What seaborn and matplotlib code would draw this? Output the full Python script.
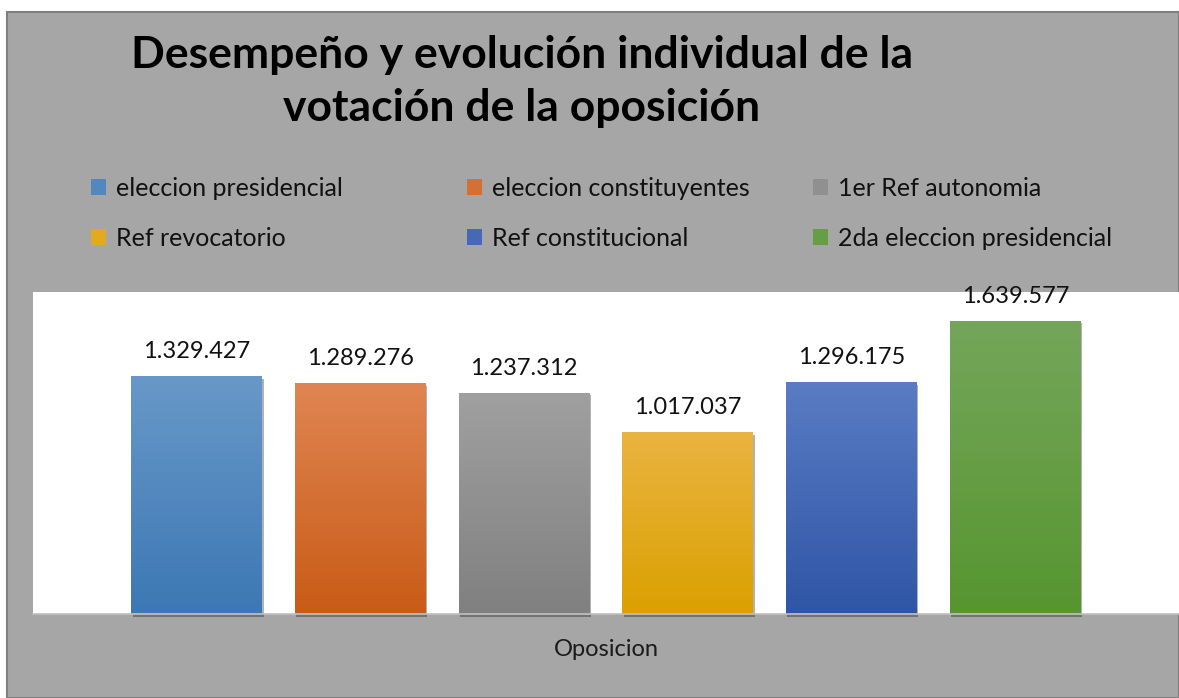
import numpy as np
import pandas as pd
import matplotlib
matplotlib.use("Agg")
import matplotlib.pyplot as plt
import matplotlib.colors as mcolors
import matplotlib.patheffects as pe
from matplotlib.patches import Patch, Rectangle
import seaborn as sns

categories = ["eleccion presidencial", "eleccion constituyentes", "1er Ref autonomia",
              "Ref revocatorio", "Ref constitucional", "2da eleccion presidencial"]
values = [1329427, 1289276, 1237312, 1017037, 1296175, 1639577]
colors = ["#5B9BD5", "#ED7D31", "#A5A5A5", "#FFC000", "#4472C4", "#70AD47"]
top_colors = ["#6898c8", "#e08552", "#a0a0a0", "#e9b441", "#5a7cc4", "#74a65a"]
bottom_colors = ["#3c78b4", "#c95b17", "#808080", "#dba000", "#2f55a6", "#579530"]
title_lines = ["Desempeño y evolución individual de la", "votación de la oposición"]
xlabel = "Oposicion"

sns.set_theme(style="white")
plt.rcParams["font.family"] = ["Lato", "DejaVu Sans"]

W, H = 1179, 698
fig = plt.figure(figsize=(W / 100, H / 100), dpi=100)
fig.patch.set_facecolor("white")
bg = Rectangle((7 / W, 0), 1 - 7 / W, 1 - 12 / H, transform=fig.transFigure,
               facecolor="#a6a6a6", edgecolor="#7f7f7f", linewidth=1.5, zorder=-5)
fig.add_artist(bg)

ax = fig.add_axes([33 / W, 84 / H, 1146 / W, 322 / H])
ax.set_zorder(1)
df = pd.DataFrame({"serie": categories, "votos": values})
sns.barplot(data=df, x="serie", y="votos", hue="serie", palette=colors, width=0.8,
            legend=False, ax=ax, saturation=1)
ax.set_facecolor("white")

mid_colors = []
for p, ct, cb in zip(ax.patches, top_colors, bottom_colors):
    x0, y0 = p.get_x(), p.get_y()
    w, h = p.get_width(), p.get_height()
    top = np.array(mcolors.to_rgb(ct))
    bot = np.array(mcolors.to_rgb(cb))
    mid_colors.append(tuple((top + bot) / 2))
    grad = np.linspace(0, 1, 256)[:, None, None]
    img = top[None, None, :] * (1 - grad) + bot[None, None, :] * grad
    p.set_edgecolor("none")
    p.set_facecolor(tuple((top + bot) / 2))
    p.set_clip_on(False)
    p.set_path_effects([pe.SimplePatchShadow(offset=(1, -2), shadow_rgbFace="black", alpha=0.3),
                        pe.Normal()])
    im = ax.imshow(img, extent=(x0, x0 + w, y0, y0 + h), aspect="auto", origin="upper",
                   zorder=p.get_zorder() + 0.1)
    im.set_clip_path(p)

ax.set_xlim(-1, 6)
ax.set_ylim(0, 1.8e6)

for i, v in enumerate(values):
    lab = f"{v:,}".replace(",", ".")
    ax.annotate(lab, (i, v), xytext=(0, 14), textcoords="offset pixels",
                ha="center", va="bottom", fontsize=17, color="#111111",
                annotation_clip=False, zorder=5)

ax.set_xticks([])
ax.set_yticks([])
ax.set_xlabel("")
ax.set_ylabel("")
for s in ax.spines.values():
    s.set_visible(False)
ax.spines["bottom"].set_visible(True)
ax.spines["bottom"].set_color("#bfbfbf")

fig.text(522 / W, 1 - 55 / H, title_lines[0], ha="center",
         va="center", fontsize=32, fontweight="bold", color="black")
fig.text(522 / W, 1 - 108 / H, title_lines[1], ha="center",
         va="center", fontsize=32, fontweight="bold", color="black")

fig.text(606 / W, 1 - 650 / H, xlabel, ha="center", va="center", fontsize=17, color="#1a1a1a")

handles = [Patch(facecolor=c, edgecolor="none") for c in mid_colors]
col_x = [73, 449, 795]
for k in range(3):
    idx = [k, k + 3]
    leg = fig.legend([handles[j] for j in idx], [categories[j] for j in idx], ncol=1,
                     loc="upper left", bbox_to_anchor=(col_x[k] / W, 1 - 159 / H),
                     frameon=False, fontsize=18, handlelength=0.6, handleheight=0.6,
                     handletextpad=0.4, labelspacing=1.1, borderpad=0.2)
    for t in leg.get_texts():
        t.set_color("#111111")

fig.savefig("out.png", dpi=100)
